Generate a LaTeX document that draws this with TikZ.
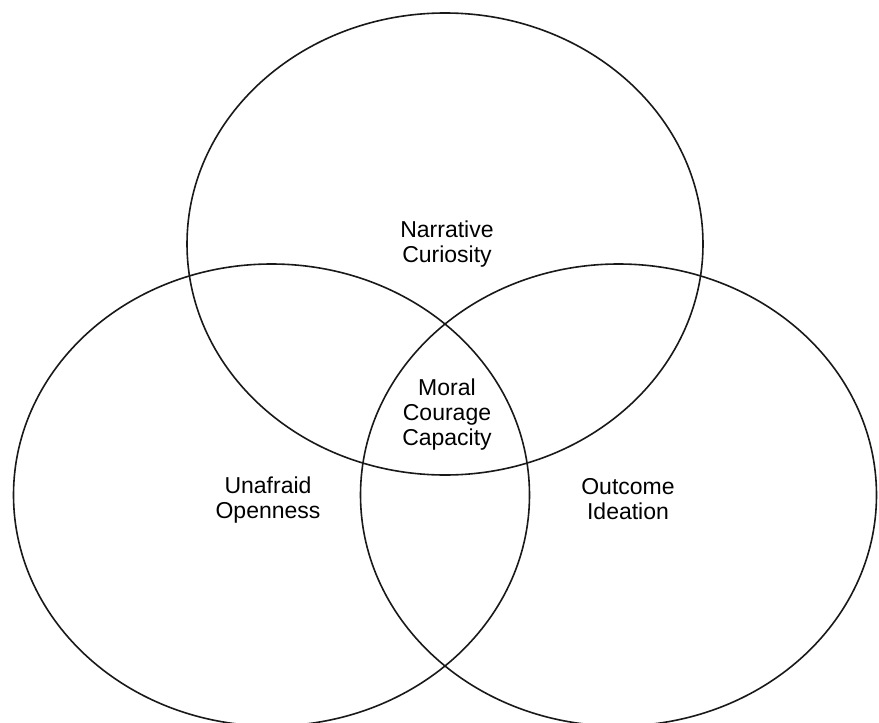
\documentclass[tikz,border=0pt]{standalone}
\usepackage{fontspec}
\setmainfont{Liberation Sans}
\usetikzlibrary{shapes.geometric}
\begin{document}
\begin{tikzpicture}[x=1pt,y=-1pt,
  setcircle/.style={ellipse, draw=black!90, line width=1.6pt, inner sep=0pt, outer sep=0pt,
    minimum width=516pt, minimum height=462pt},
  lbl/.style={align=center, inner sep=0pt, font=\fontsize{23}{25}\selectfont}]
\useasboundingbox (0,0) rectangle (879,723);
\node[setcircle] (top) at (445,244) {};
\node[setcircle] (left) at (271.5,495) {};
\node[setcircle] (right) at (618.5,495) {};
\node[lbl] (narr) at (447,244) {Narrative\\Curiosity};
\node[lbl] (moral) at (447,415) {Moral\\Courage\\Capacity};
\node[lbl] (unaf) at (268,500) {Unafraid\\Openness};
\node[lbl] (outc) at (628,499) {Outcome\\Ideation};
\end{tikzpicture}
\end{document}
